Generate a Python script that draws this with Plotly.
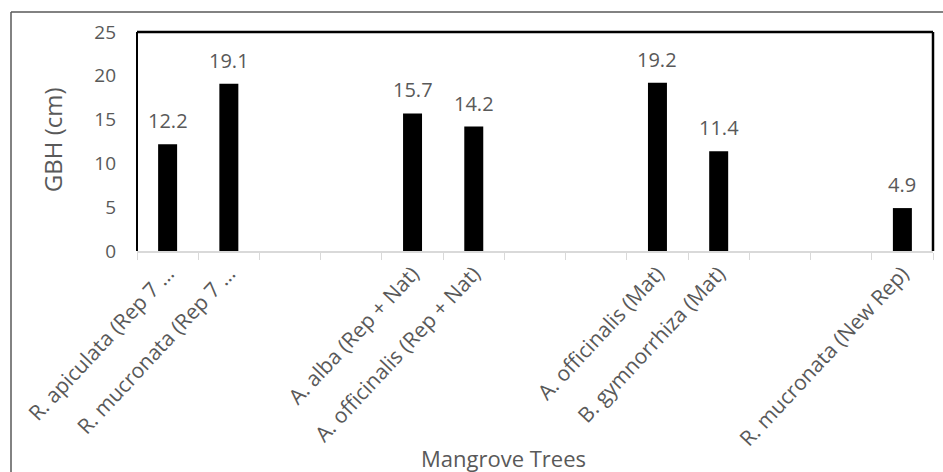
import plotly.graph_objects as go

# Tree groups along the x axis (blank slots keep the empty gaps between groups)
categories = [
    "R. apiculata (Rep 7 …", "R. mucronata (Rep 7 …", " ", "  ",
    "A. alba (Rep + Nat)", "A. officinalis (Rep + Nat)", "   ", "    ",
    "A. officinalis (Mat)", "B. gymnorrhiza (Mat)", "     ", "      ",
    "R. mucronata (New Rep)",
]
gbh_cm = [12.2, 19.1, None, None, 15.7, 14.2, None, None, 19.2, 11.4, None, None, 4.9]
y_ticks = [0, 5, 10, 15, 20, 25]

gray = "#595959"
font_family = "Open Sans"

fig = go.Figure(
    go.Bar(
        x=categories,
        y=gbh_cm,
        marker=dict(color="black", line=dict(width=0)),
        width=0.31,
    )
)

# value labels above each bar
value_labels = [
    dict(x=c, y=v, text=f"{v:.1f}", showarrow=False, yanchor="bottom", yshift=8,
         font=dict(size=20, color=gray, family=font_family))
    for c, v in zip(categories, gbh_cm) if v is not None
]

# axis titles
titles = [
    dict(text="Mangrove Trees", xref="paper", yref="paper", x=0.461, y=-0.945,
         showarrow=False, xanchor="center", yanchor="middle",
         font=dict(size=22, color=gray, family=font_family)),
    dict(text="GBH (cm)", xref="paper", yref="paper", x=-0.107, y=0.51,
         showarrow=False, textangle=-90, xanchor="center", yanchor="middle",
         font=dict(size=24, color=gray, family=font_family)),
]

fig.update_layout(
    width=943,
    height=472,
    margin=dict(l=137, r=10, t=32, b=221),
    paper_bgcolor="white",
    plot_bgcolor="white",
    showlegend=False,
    font=dict(family=font_family, color=gray, size=15),
    annotations=value_labels + titles,
    xaxis=dict(
        type="category",
        categoryorder="array",
        categoryarray=categories,
        tickangle=-47,
        tickson="boundaries",
        ticks="outside",
        ticklen=7,
        tickcolor="#d9d9d9",
        showline=True,
        linecolor="#d9d9d9",
        linewidth=2,
        showgrid=False,
        tickfont=dict(size=21, color=gray),
    ),
    yaxis=dict(
        range=[0, 25],
        tickvals=y_ticks,
        showgrid=False,
        zeroline=False,
        showline=False,
        ticks="",
        ticklabelstandoff=20,
        tickfont=dict(size=19, color=gray),
    ),
    shapes=[
        # outer chart frame (left and top edges)
        dict(type="line", xref="paper", yref="paper", x0=-126 / 796, x1=1.1,
             y0=1 + 20 / 219, y1=1 + 20 / 219, line=dict(color=gray, width=1.5)),
        dict(type="line", xref="paper", yref="paper", x0=-126 / 796, x1=-126 / 796,
             y0=1 + 20 / 219, y1=-1.2, line=dict(color=gray, width=1.5)),
        # plot-area frame: left, top, right
        dict(type="line", xref="paper", yref="paper", x0=0, x1=0, y0=0, y1=1,
             line=dict(color="black", width=2)),
        dict(type="line", xref="paper", yref="paper", x0=0, x1=1, y0=1, y1=1,
             line=dict(color="black", width=2.5)),
        dict(type="line", xref="paper", yref="paper", x0=1, x1=1, y0=0, y1=1,
             line=dict(color="black", width=2.5)),
    ],
)

fig.write_html("out.html")
